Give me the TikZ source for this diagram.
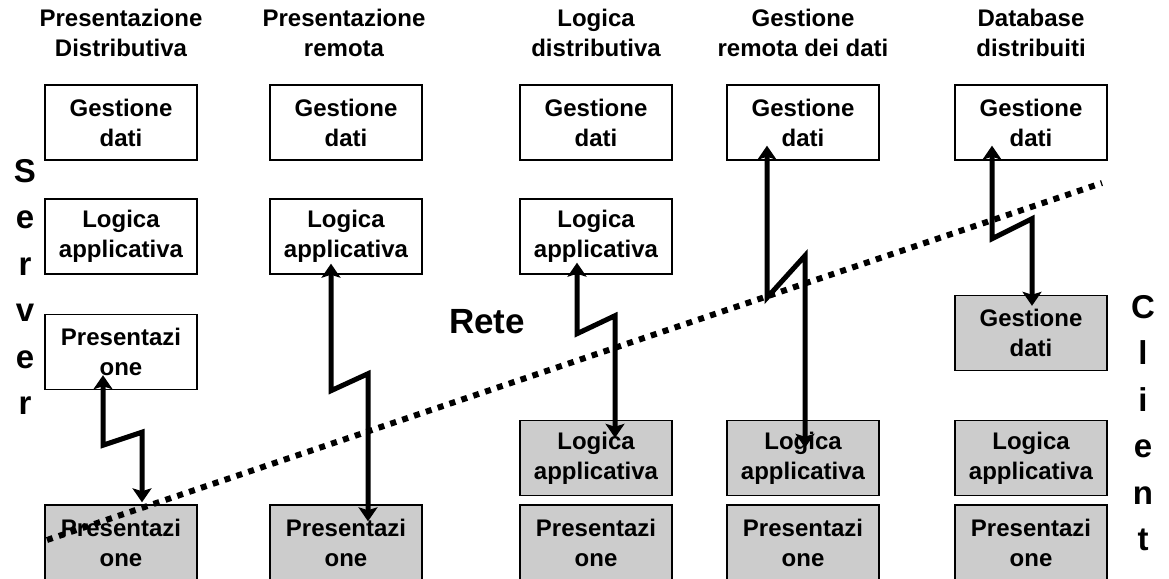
\documentclass[tikz,border=0pt]{standalone}
\usepackage{fontspec}
\setmainfont{Liberation Sans}
\usetikzlibrary{calc,arrows.meta}
\begin{document}
\begin{tikzpicture}[x=1pt,y=-1pt,
  layer/.style={draw=black, line width=1.4pt, minimum width=152pt, minimum height=75pt,
    align=center, inner sep=0pt, font=\fontsize{24}{30}\selectfont\bfseries},
  server/.style={layer, fill=white},
  client/.style={layer, fill=black!20},
  title/.style={align=center, inner sep=0pt, font=\fontsize{24}{30}\selectfont\bfseries},
  side/.style={align=center, inner sep=0pt, font=\fontsize{33}{46.5}\selectfont\bfseries},
  net/.style={line width=6pt, dash pattern=on 6pt off 6.5pt},
  link/.style={line width=5pt, line join=miter,
    {Stealth[length=14pt,width=19pt,inset=3pt]}-{Stealth[length=14pt,width=19pt,inset=3pt]}}
]
\useasboundingbox (0,0) rectangle (1169,578);

% column titles
\node[title] (t1) at (121,33)   {Presentazione\\Distributiva};
\node[title] (t2) at (344,33)   {Presentazione\\remota};
\node[title] (t3) at (596,33)   {Logica\\distributiva};
\node[title] (t4) at (803,33)   {Gestione\\remota dei dati};
\node[title] (t5) at (1031,33)  {Database\\distribuiti};

% server side layers
\node[server] (s1g) at (121,122.5)   {Gestione\\dati};
\node[server] (s2g) at (346,122.5)   {Gestione\\dati};
\node[server] (s3g) at (596,122.5)   {Gestione\\dati};
\node[server] (s4g) at (803,122.5)   {Gestione\\dati};
\node[server] (s5g) at (1031,122.5)  {Gestione\\dati};
\node[server] (s1l) at (121,236.5)   {Logica\\applicativa};
\node[server] (s2l) at (346,236.5)   {Logica\\applicativa};
\node[server] (s3l) at (596,236.5)   {Logica\\applicativa};
\node[server] (s1p) at (121,352)     {Presentazi\\one};

% client side layers
\node[client] (c5g) at (1031,333)  {Gestione\\dati};
\node[client] (c3l) at (596,458)   {Logica\\applicativa};
\node[client] (c4l) at (803,458)   {Logica\\applicativa};
\node[client] (c5l) at (1031,458)  {Logica\\applicativa};
\node[client] (c1p) at (121,542.5) {Presentazi\\one};
\node[client] (c2p) at (346,542.5) {Presentazi\\one};
\node[client] (c3p) at (596,542.5) {Presentazi\\one};
\node[client] (c4p) at (803,542.5) {Presentazi\\one};
\node[client] (c5p) at (1031,542.5) {Presentazi\\one};

% side labels
\node[side] (srv) at (25,287)   {S\\e\\r\\v\\e\\r};
\node[side] (cli) at (1143,423) {C\\l\\i\\e\\n\\t};
\node[inner sep=0pt, font=\fontsize{35}{40}\selectfont\bfseries] (rete) at (487,322) {Rete};

% network boundary
\coordinate (netA) at (47,540);
\coordinate (netB) at (1102,183);
\draw[net] (netA) -- (netB);

% remote links
\draw[link] ($(s1p.south)+(-18,-15)$) -- ++(0,70) -- ++(39,-13) -- ($(c1p.north)+(21,-2)$);
\draw[link] ($(s2l.south)+(-15,-11)$) -- ++(0,127) -- ++(37,-17) -- ($(c2p.north)+(22,17)$);
\draw[link] ($(s3l.south)+(-19,-12)$) -- ++(0,71) -- ++(38,-18) -- ($(c3l.north)+(19,18)$);
\draw[link] ($(s4g.south)+(-36,-15)$) -- ++(0,152) -- ++(38,-42) -- ($(c4l.north)+(2,28)$);
\draw[link] ($(s5g.south)+(-39,-15)$) -- ++(0,93) -- ++(40,-20) -- ($(c5g.north)+(1,11)$);
\end{tikzpicture}
\end{document}
